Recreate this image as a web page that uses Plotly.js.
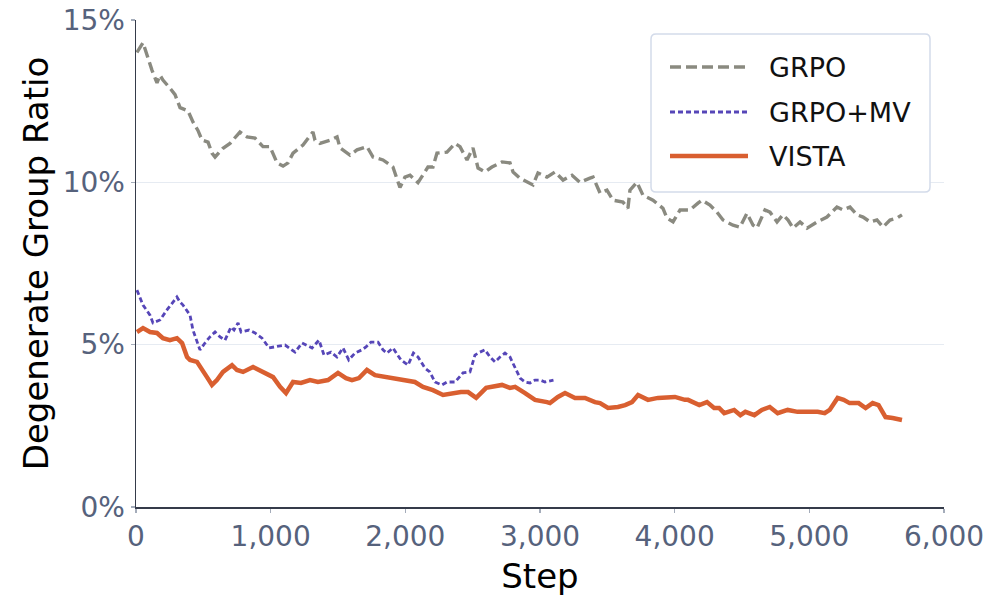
<!DOCTYPE html>
<html><head><meta charset="utf-8">
<script src="https://cdn.plot.ly/plotly-3.0.1.min.js"></script>
<style>body{margin:0;background:#fff}#c{width:996px;height:605px}</style>
</head><body><div id="c"></div>
<script>
const grpoSteps = [7,52,119,156,178,200,252,290,327,386,423,460,490,535,564,587,646,698,772,824,884,943,995,1047,1092,1129,1166,1240,1314,1329,1366,1441,1493,1515,1589,1641,1715,1760,1834,1908,1960,1997,2035,2094,2168,2205,2235,2309,2369,2406,2458,2502,2540,2592,2643,2718,2777,2800,2851,2948,2985,3052,3111,3171,3238,3297,3371,3394,3446,3497,3542,3616,3653,3668,3720,3765,3839,3913,3943,3988,4040,4114,4173,4203,4262,4314,4359,4433,4485,4537,4582,4611,4671,4708,4760,4804,4842,4879,4931,4983,5057,5131,5205,5250,5302,5354,5399,5451,5502,5547,5599,5651,5688];
const grpoVals = [14.0,14.3,13.45,13.06,13.3,13.15,12.9,12.7,12.3,12.2,11.86,11.6,11.3,11.24,10.9,10.78,11.05,11.2,11.55,11.4,11.36,11.1,11.1,10.6,10.5,10.6,10.9,11.15,11.55,11.3,11.2,11.3,11.4,11.06,10.84,11.0,11.1,10.78,10.69,10.47,9.84,10.16,10.22,9.99,10.47,10.47,10.9,10.93,11.2,11.1,10.69,11.06,10.44,10.32,10.47,10.63,10.6,10.32,10.13,9.92,10.29,10.16,10.32,10.07,10.22,10.0,10.13,10.16,9.67,9.76,9.45,9.39,9.2,9.76,10.0,9.6,9.45,9.2,8.9,8.78,9.15,9.15,9.36,9.45,9.3,9.08,8.84,8.68,8.62,9.05,8.68,8.59,9.15,9.08,8.78,9.0,8.84,8.59,8.78,8.59,8.78,8.93,9.24,9.15,9.24,9.0,8.93,8.78,8.84,8.62,8.84,8.9,9.0];

const mvSteps = [7,52,104,126,178,230,304,327,349,401,423,453,475,512,549,587,624,661,705,728,758,780,839,884,936,988,1032,1107,1181,1233,1307,1359,1396,1448,1492,1537,1580,1626,1677,1708,1745,1797,1834,1863,1908,1967,2020,2060,2094,2145,2182,2220,2272,2309,2369,2428,2480,2517,2554,2591,2629,2666,2703,2740,2777,2815,2852,2889,2926,2963,3000,3037,3074,3100];
const mvVals = [6.68,6.22,5.91,5.67,5.76,6.07,6.47,6.31,6.22,5.91,5.45,5.08,4.84,5.05,5.24,5.39,5.24,5.14,5.54,5.45,5.67,5.39,5.45,5.36,5.2,4.9,4.93,4.99,4.77,5.05,4.9,5.14,4.68,4.77,4.62,4.9,4.53,4.74,4.84,4.93,5.08,5.08,4.84,4.74,4.9,4.53,4.37,4.74,4.62,4.28,4.16,3.85,3.76,3.85,3.85,4.13,4.16,4.68,4.77,4.84,4.62,4.47,4.62,4.74,4.62,4.31,3.97,3.85,3.82,3.91,3.91,3.85,3.88,3.91];

const vistaSteps = [7,52,104,156,200,252,304,342,379,401,453,475,527,564,601,646,713,750,795,869,943,1018,1070,1114,1166,1225,1292,1351,1426,1500,1559,1604,1656,1715,1775,1849,1923,1997,2071,2131,2205,2280,2354,2413,2466,2526,2600,2659,2718,2777,2815,2889,2963,3052,3074,3133,3186,3260,3334,3408,3446,3505,3579,3632,3683,3728,3802,3876,3943,4002,4076,4099,4183,4240,4293,4330,4368,4442,4488,4525,4592,4647,4706,4765,4839,4913,4988,5062,5114,5151,5210,5255,5299,5366,5418,5470,5514,5566,5618,5688];
const vistaVals = [5.39,5.51,5.39,5.36,5.2,5.14,5.2,5.05,4.62,4.53,4.47,4.31,4.0,3.76,3.91,4.16,4.37,4.22,4.16,4.31,4.16,4.0,3.7,3.51,3.85,3.82,3.91,3.85,3.91,4.13,3.97,3.91,3.97,4.22,4.06,4.0,3.97,3.91,3.85,3.7,3.6,3.45,3.51,3.54,3.54,3.36,3.67,3.7,3.76,3.67,3.7,3.51,3.3,3.23,3.2,3.39,3.51,3.36,3.36,3.23,3.2,3.05,3.08,3.14,3.23,3.45,3.3,3.36,3.36,3.39,3.3,3.3,3.14,3.23,3.05,3.05,2.89,2.99,2.83,2.93,2.83,2.99,3.08,2.89,2.99,2.93,2.93,2.93,2.89,2.99,3.36,3.3,3.2,3.2,3.05,3.2,3.14,2.77,2.74,2.68,2.71];

const seriesNames = ['GRPO','GRPO+MV','VISTA'];
const xTicks = [0,1000,2000,3000,4000,5000,6000];
const yTicks = [0,0.05,0.10,0.15];
const pct = a => a.map(v => v/100);

const styles = [
  {color:'#8a8a80', width:3.4, dash:'11px,5px'},
  {color:'#5646b8', width:2.8, dash:'5px,3px'},
  {color:'#d95f30', width:4.5, dash:'solid'}
];
const data = [[grpoSteps,grpoVals],[mvSteps,mvVals],[vistaSteps,vistaVals]];
const traces = data.map((d,i) => ({x:d[0], y:pct(d[1]), name:seriesNames[i], mode:'lines',
  line:styles[i], showlegend:false}));

// custom legend (paper coords)
const px2x = p => (p-136)/808, py2y = p => (507-p)/487;
const bx0=px2x(651), bx1=px2x(930), by0=py2y(192), by1=py2y(34);
const rx=5/808, ry=5/487;
const shapes = [{type:'path', xref:'paper', yref:'paper', layer:'above',
  path:`M${bx0+rx},${by1} L${bx1-rx},${by1} Q${bx1},${by1} ${bx1},${by1-ry} L${bx1},${by0+ry} Q${bx1},${by0} ${bx1-rx},${by0} L${bx0+rx},${by0} Q${bx0},${by0} ${bx0},${by0+ry} L${bx0},${by1-ry} Q${bx0},${by1} ${bx0+rx},${by1} Z`,
  fillcolor:'#fff', line:{color:'#d3dbea', width:1.5}}];
const annotations = [];
const rowY = [67,112,156];
seriesNames.forEach((n,i) => {
  shapes.push({type:'line', xref:'paper', yref:'paper', layer:'above',
    x0:px2x(670), x1:px2x(748), y0:py2y(rowY[i]), y1:py2y(rowY[i]),
    line:{color:styles[i].color, width:styles[i].width, dash:styles[i].dash}});
  annotations.push({xref:'paper', yref:'paper', x:px2x(767), y:py2y(rowY[i]),
    xanchor:'left', yanchor:'middle', text:n, showarrow:false,
    font:{family:'DejaVu Sans, sans-serif', size:27, color:'#111'}});
});

const font = 'DejaVu Sans, sans-serif';
const layout = {
  width:996, height:605,
  margin:{l:136, r:52, t:20, b:98},
  paper_bgcolor:'#fff', plot_bgcolor:'#fff',
  font:{family:font, color:'#000'},
  showlegend:false, shapes, annotations,
  xaxis:{range:[0,6000], tickvals:xTicks, tickformat:',',
    showgrid:false, zeroline:false, showline:true, linecolor:'#353b4a', linewidth:1.5,
    ticks:'outside', ticklen:4, tickcolor:'#a4acba', tickwidth:1.2,
    tickfont:{family:font, size:28, color:'#56627c'},
    title:{text:'Step', font:{family:font, size:34, color:'#000'}, standoff:12}},
  yaxis:{range:[0,0.15], tickvals:yTicks, tickformat:'.0%',
    showgrid:true, gridcolor:'#e6ebf2', gridwidth:1.4, zeroline:false,
    showline:true, linecolor:'#353b4a', linewidth:1.5,
    ticks:'outside', ticklen:4, tickcolor:'#a4acba', tickwidth:1.2,
    tickfont:{family:font, size:28, color:'#56627c'},
    title:{text:'Degenerate Group Ratio', font:{family:font, size:34, color:'#000'}, standoff:4}}
};
Plotly.newPlot('c', traces, layout, {displayModeBar:false, staticPlot:true});
</script></body></html>
